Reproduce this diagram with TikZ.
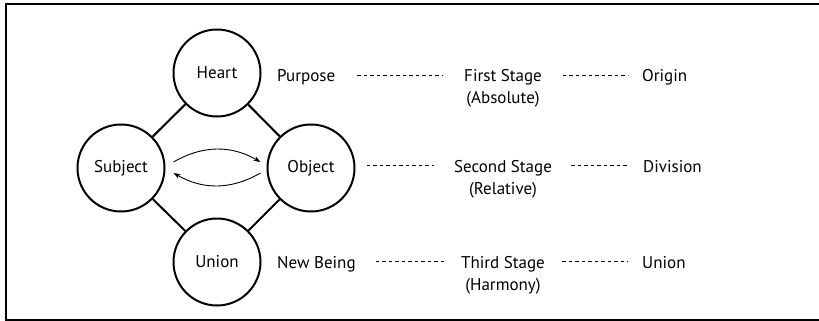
\documentclass[tikz,border=0pt]{standalone}
\usepackage{fontspec}
\setmainfont{PT Sans}
\usetikzlibrary{arrows.meta}
\begin{document}
\begin{tikzpicture}[x=1pt,y=-1pt,
  every node/.style={font=\fontsize{17}{20}\selectfont, inner sep=0pt},
  circ/.style={draw, circle, line width=2pt, minimum size=87pt},
  link/.style={line width=2pt},
  dash line/.style={line width=0.9pt, dash pattern=on 3.5pt off 3pt},
  arc/.style={line width=0.9pt, -{Stealth[length=7pt,width=5pt]}},
  lbl/.style={anchor=base west},
  ctr/.style={anchor=base}
]
\useasboundingbox (0,0) rectangle (819,321);
\draw[line width=2.5pt] (819,4) -- (6,4) -- (6,319.8) -- (819,319.8);

\node[circ] (heart) at (217,73) {Heart};
\node[circ] (subject) at (121,168) {Subject};
\node[circ] (object) at (311,168) {Object};
\node[circ] (union) at (217,262) {Union};

\draw[link] (heart) -- (subject);
\draw[link] (heart) -- (object);
\draw[link] (subject) -- (union);
\draw[link] (object) -- (union);

\coordinate (a1) at ([shift={(8pt,6pt)}]subject.east);
\coordinate (a2) at ([shift={(-6pt,6pt)}]object.west);
\coordinate (b1) at ([shift={(-6pt,-5pt)}]object.west);
\coordinate (b2) at ([shift={(8pt,-5pt)}]subject.east);
\draw[arc] (a1) to[bend left=30] (a2);
\draw[arc] (b1) to[bend left=30] (b2);

% row 1
\node[lbl] (purpose) at (277,81.5) {Purpose};
\node[ctr] (first) at (503,81.5) {First Stage};
\node[ctr] (absolute) at (503,103) {(Absolute)};
\node[lbl] (origin) at (642,81.5) {Origin};
% row 2
\node[ctr] (second) at (503,172) {Second Stage};
\node[ctr] (relative) at (503,194) {(Relative)};
\node[lbl] (division) at (643,172) {Division};
% row 3
\node[lbl] (newbeing) at (277,268) {New Being};
\node[ctr] (third) at (503,268) {Third Stage};
\node[ctr] (harmony) at (503,290) {(Harmony)};
\node[lbl] (union2) at (642,268) {Union};

\coordinate (s2w) at ([yshift=6.5pt]second.base west);
\draw[dash line] ([shift={(22pt,6.5pt)}]purpose.base east) -- ([shift={(-21pt,6.5pt)}]first.base west);
\draw[dash line] ([shift={(21pt,6.5pt)}]first.base east) -- ([shift={(-14pt,6.5pt)}]origin.base west);
\draw[dash line] ([xshift=11pt]object.east |- s2w) -- ([xshift=-20pt]s2w);
\draw[dash line] ([shift={(19pt,6.5pt)}]second.base east) -- ([shift={(-15pt,6.5pt)}]division.base west);
\draw[dash line] ([shift={(20pt,6.5pt)}]newbeing.base east) -- ([shift={(-15pt,6.5pt)}]third.base west);
\draw[dash line] ([shift={(17pt,6.5pt)}]third.base east) -- ([shift={(-14pt,6.5pt)}]union2.base west);
\end{tikzpicture}
\end{document}
